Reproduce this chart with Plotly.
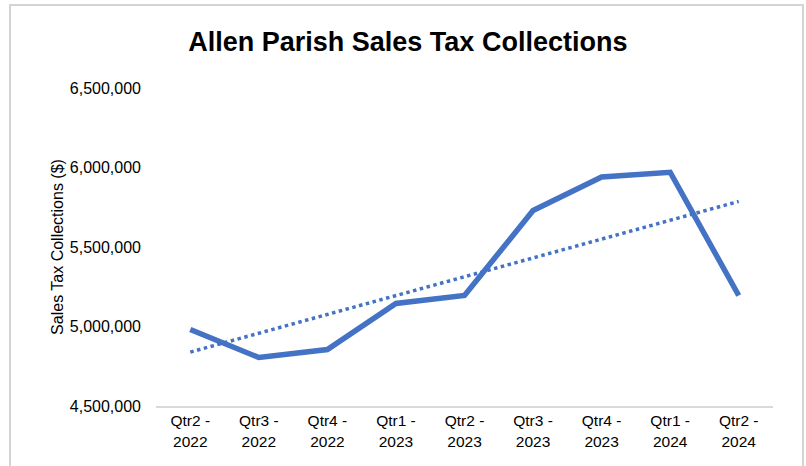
import numpy as np
import plotly.graph_objects as go

categories = ["Qtr2 -<br>2022", "Qtr3 -<br>2022", "Qtr4 -<br>2022", "Qtr1 -<br>2023", "Qtr2 -<br>2023",
              "Qtr3 -<br>2023", "Qtr4 -<br>2023", "Qtr1 -<br>2024", "Qtr2 -<br>2024"]
collections = [4981000, 4805000, 4855000, 5145000, 5195000, 5730000, 5940000, 5970000, 5195000]
y_ticks = [4500000, 5000000, 5500000, 6000000, 6500000]

# Linear trendline (least squares over category index), as Excel computes it
idx = np.arange(len(collections))
slope, intercept = np.polyfit(idx, collections, 1)
trend = (slope * idx + intercept).tolist()

blue = "#4472C4"
font = "Liberation Sans, Arial, sans-serif"

L, R, T, B = 156, 33, 88, 60
W, H = 806, 466
pw, ph = W - L - R, H - T - B

fig = go.Figure()
fig.add_trace(go.Scatter(x=categories, y=collections, mode="lines",
                         line=dict(color=blue, width=5.5), showlegend=False))
fig.add_trace(go.Scatter(x=categories, y=trend, mode="lines",
                         line=dict(color=blue, width=3.5, dash="dot"), showlegend=False))

fig.update_layout(
    width=W, height=H,
    paper_bgcolor="white", plot_bgcolor="white",
    margin=dict(l=L, r=R, t=T, b=B),
    font=dict(family=font, size=16, color="#000000"),
    title=dict(text="<b>Allen Parish Sales Tax Collections</b>", xref="container", x=0.506,
               xanchor="center", yref="container", y=0.91, yanchor="middle",
               font=dict(family=font, size=27, color="#000000")),
    xaxis=dict(showgrid=False, showline=True, linecolor="#D9D9D9", linewidth=1.5,
               ticks="", tickfont=dict(size=15.5), range=[-0.5, 8.5], fixedrange=True),
    yaxis=dict(range=[4500000, 6500000], tickvals=y_ticks, tickformat=",d",
               showgrid=False, zeroline=False, showline=False, ticks="",
               ticklabelstandoff=14, tickfont=dict(size=16), fixedrange=True,
               title=dict(text="Sales Tax Collections ($)", font=dict(size=16), standoff=2)),
    shapes=[dict(type="rect", xref="paper", yref="paper",
                 x0=(10 - L) / pw, x1=(803 - L) / pw,
                 y0=(H - B - 470) / ph, y1=(H - B - 5) / ph,
                 line=dict(color="#D4D4D4", width=2), fillcolor="rgba(0,0,0,0)", layer="above")],
)

fig.write_html("out.html", config={"displayModeBar": False},
               post_script="document.body.style.margin='0';document.body.style.overflow='hidden';")
